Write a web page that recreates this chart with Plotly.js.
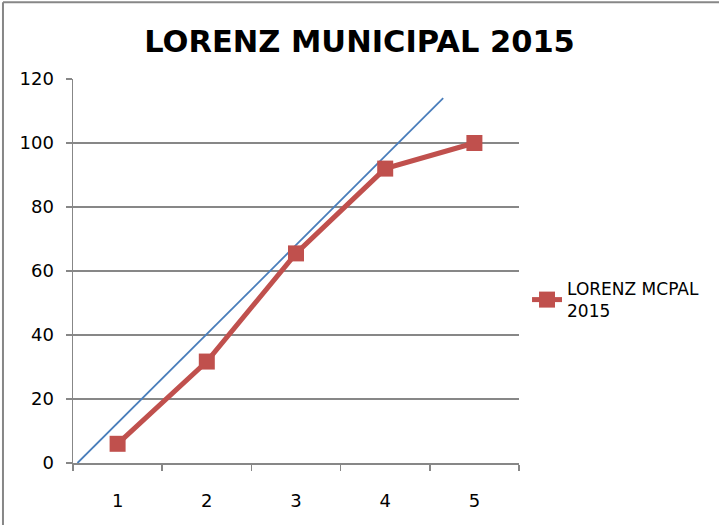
<!DOCTYPE html>
<html>
<head>
<meta charset="utf-8">
<script src="https://cdn.plot.ly/plotly-3.0.1.min.js"></script>
<style>html,body{margin:0;padding:0;background:#fff;}#chart{width:719px;height:525px;}</style>
</head>
<body>
<div id="chart"></div>
<script>
// Data
var categories = [1, 2, 3, 4, 5];
var categoryLabels = ["1", "2", "3", "4", "5"];
var lorenzValues = [6, 31.7, 65.5, 92, 100];
var seriesName = "LORENZ MCPAL<br>2015";
var equalityX = [0.55, 4.65];
var equalityY = [0, 114];
var yTicks = [0, 20, 40, 60, 80, 100, 120];

var gray = "#878787";
var traces = [
  {
    x: equalityX, y: equalityY, mode: "lines", showlegend: false, hoverinfo: "skip",
    line: {color: "#4A7EBB", width: 1.8}
  },
  {
    x: categories, y: lorenzValues, mode: "lines+markers", name: seriesName,
    line: {color: "#C0504D", width: 5},
    marker: {symbol: "square", size: 16, color: "#C0504D"}
  }
];

var layout = {
  width: 719, height: 525,
  margin: {l: 73, r: 200, t: 79, b: 62},
  paper_bgcolor: "#fff", plot_bgcolor: "#fff",
  font: {family: "DejaVu Sans", color: "#000"},
  title: {
    text: "<b>LORENZ MUNICIPAL 2015</b>",
    font: {family: "DejaVu Sans", size: 30.5, color: "#000"},
    x: 0.5, xref: "container", y: 0.922, yref: "container", yanchor: "middle"
  },
  xaxis: {
    range: [0.5, 5.5], tickvals: categories, ticktext: categoryLabels,
    ticks: "", showgrid: false, zeroline: false,
    showline: true, linecolor: gray, linewidth: 1.5,
    tickfont: {size: 18, family: "DejaVu Sans"}, ticklabelstandoff: 21,
    minor: {tick0: 0.5, dtick: 1, ticks: "outside", ticklen: 6, tickcolor: gray, tickwidth: 1.5, showgrid: false}
  },
  yaxis: {
    range: [0, 120], tickvals: yTicks, ticks: "outside", ticklen: 6, tickcolor: gray, tickwidth: 1.5,
    showgrid: true, gridcolor: gray, gridwidth: 1.2, zeroline: false,
    showline: true, linecolor: gray, linewidth: 1.5,
    tickfont: {size: 18, family: "DejaVu Sans"}, ticklabelstandoff: 8
  },
  legend: {
    x: 1.018, xanchor: "left", y: 0.5, yanchor: "top",
    font: {size: 17, family: "DejaVu Sans", color: "#000"},
    bgcolor: "rgba(0,0,0,0)"
  },
  shapes: [
    {type: "line", xref: "paper", yref: "paper", x0: -0.157, x1: -0.157, y0: -0.3, y1: 1.2, line: {color: gray, width: 2}},
    {type: "line", xref: "paper", yref: "paper", x0: -0.157, x1: 1.6, y0: 1.2, y1: 1.2, line: {color: gray, width: 2}}
  ],
  showlegend: true
};

Plotly.newPlot("chart", traces, layout, {displayModeBar: false, staticPlot: true});
</script>
</body>
</html>
